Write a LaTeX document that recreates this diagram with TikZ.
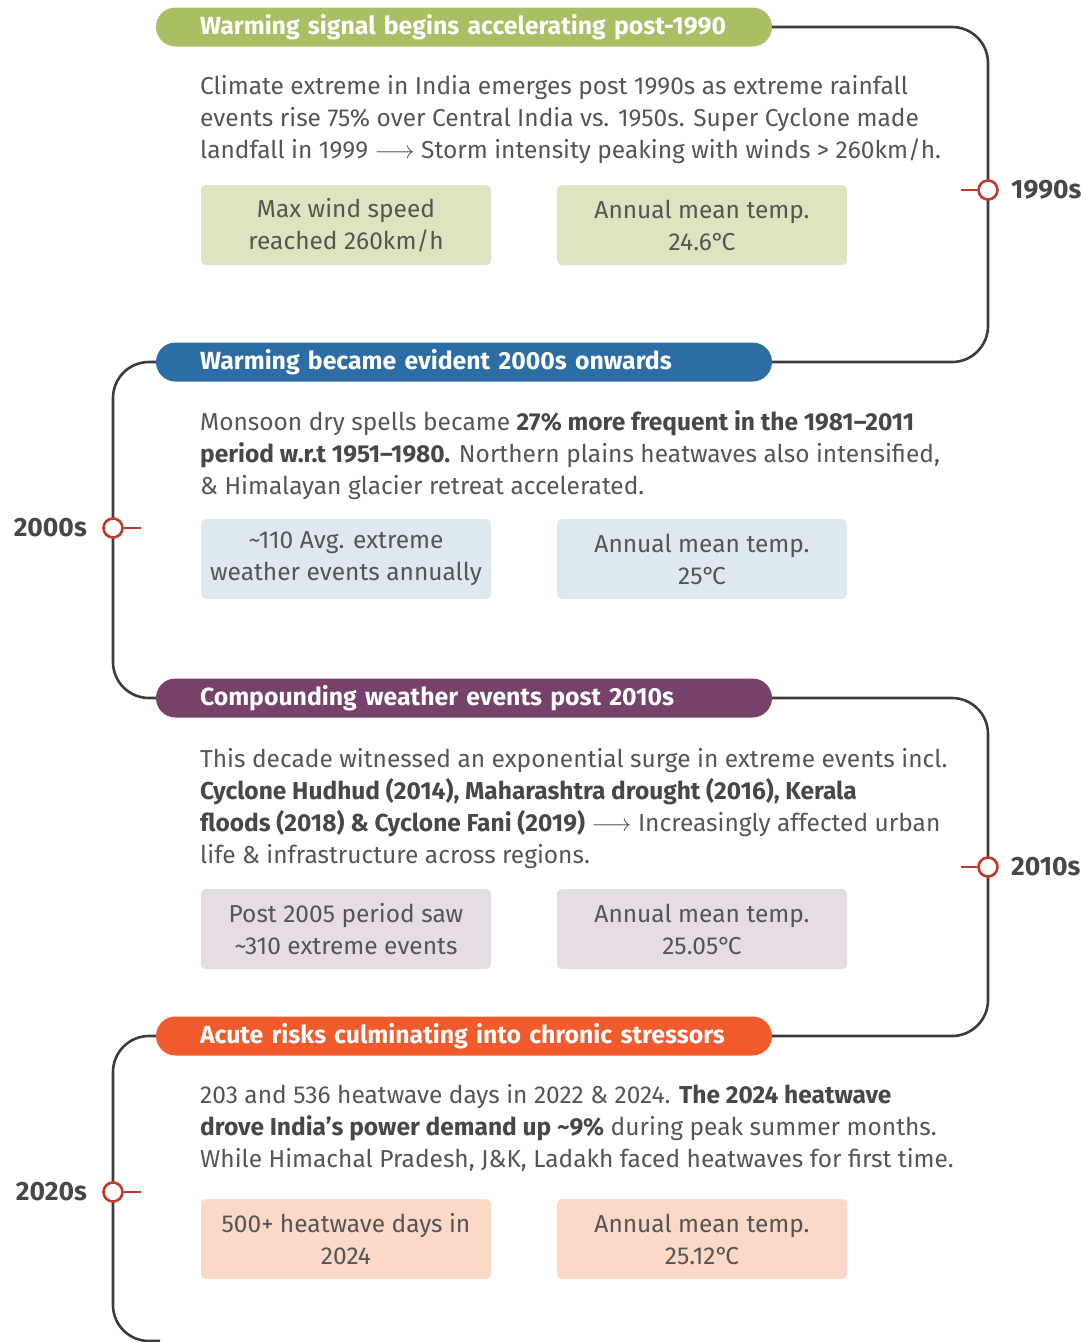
\documentclass[tikz,border=0pt]{standalone}
\usepackage{fontspec}
\setmainfont{Fira Sans}
\usetikzlibrary{positioning}

\definecolor{greenpill}{HTML}{A9BF63}
\definecolor{greenbox}{HTML}{DFE4C0}
\definecolor{bluepill}{HTML}{2B6DA4}
\definecolor{bluebox}{HTML}{DDE8EF}
\definecolor{purplepill}{HTML}{77426A}
\definecolor{purplebox}{HTML}{E6DCE4}
\definecolor{orangepill}{HTML}{F15A2B}
\definecolor{orangebox}{HTML}{FCD9C6}
\definecolor{linegray}{HTML}{3C3C3C}
\definecolor{txtgray}{HTML}{555555}
\definecolor{darkgray}{HTML}{474747}
\definecolor{mkred}{HTML}{C0392B}

\newcommand\bhl[1]{{\bfseries\color{darkgray}#1}}
\newcommand\longarr{$\longrightarrow$}
\newcommand\degc{°\kern-0.12em C}

\tikzset{
  pill/.style={rounded corners=19.5pt, minimum height=39pt, text width=528pt,
    inner xsep=44pt, inner ysep=0pt, align=left, text=white,
    font=\bfseries\fontsize{24.8}{30}\selectfont},
  body/.style={anchor=north west, align=left, inner sep=0pt, text=txtgray,
    font=\fontsize{24.5}{32}\selectfont},
  stat/.style={rounded corners=5pt, minimum width=290pt, minimum height=80pt,
    align=center, text=txtgray, font=\fontsize{24.5}{32}\selectfont},
  timeline/.style={draw=linegray, line width=2.6pt, rounded corners=36pt},
  marker/.style={circle, draw=mkred, fill=white, line width=2.6pt,
    minimum size=19pt, inner sep=0pt},
  tickline/.style={draw=mkred, line width=2.6pt},
  decade/.style={text=darkgray, inner sep=0pt,
    font=\bfseries\fontsize{26.5}{30}\selectfont}
}

\begin{document}
\begin{tikzpicture}[x=1pt, y=1pt]
  \clip (0,0) rectangle (1086,-1342);

  % period headings
  \node[pill, fill=greenpill] (p1) at (464,-27) {Warming signal begins accelerating post-1990};
  \node[pill, fill=bluepill] (p2) at (464,-362) {Warming became evident 2000s onwards};
  \node[pill, fill=purplepill] (p3) at (464,-698) {Compounding weather events post 2010s};
  \node[pill, fill=orangepill] (p4) at (464,-1036) {Acute risks culminating into chronic stressors};

  % timeline
  \coordinate (r1) at (988,-190);
  \coordinate (l2) at (113,-528);
  \coordinate (r3) at (988,-867);
  \coordinate (l4) at (113,-1192);
  \coordinate (tail) at (160,-1341);
  \draw[timeline] (p1.east) -| (r1) |- (p2.east);
  \draw[timeline] (p2.west) -| (l2) |- (p3.west);
  \draw[timeline] (p3.east) -| (r3) |- (p4.east);
  \draw[timeline] (p4.west) -| (l4) |- (tail);

  % decade markers
  \node[marker] (m1) at (r1) {};
  \node[marker] (m2) at (l2) {};
  \node[marker] (m3) at (r3) {};
  \node[marker] (m4) at (l4) {};
  \coordinate (t1) at (961,-190);
  \coordinate (t2) at (141,-528);
  \coordinate (t3) at (961,-867);
  \coordinate (t4) at (141,-1192);
  \draw[tickline] (m1) -- (t1);
  \draw[tickline] (m2) -- (t2);
  \draw[tickline] (m3) -- (t3);
  \draw[tickline] (m4) -- (t4);
  \node[decade, anchor=west] (d1) at (1011,-190) {1990s};
  \node[decade, anchor=east] (d2) at (87,-528) {2000s};
  \node[decade, anchor=west] (d3) at (1011,-867) {2010s};
  \node[decade, anchor=east] (d4) at (87,-1192) {2020s};

  % 1990s
  \node[body] (b1) at (200,-75) {Climate extreme in India emerges post 1990s as extreme rainfall\\
    events rise 75\% over Central India vs. 1950s. Super Cyclone made\\
    landfall in 1999 \longarr{} Storm intensity peaking with winds > 260km/h.};
  \node[stat, fill=greenbox] (s1a) at (346,-225) {Max wind speed\\reached 260km/h};
  \node[stat, fill=greenbox] (s1b) at (702,-225) {Annual mean temp.\\24.6\degc};

  % 2000s
  \node[body] (b2) at (200,-410) {Monsoon dry spells became \bhl{27\% more frequent in the 1981–2011}\\
    \bhl{period w.r.t 1951–1980.} Northern plains heatwaves also intensified,\\
    \& Himalayan glacier retreat accelerated.};
  \node[stat, fill=bluebox] (s2a) at (346,-559) {\textasciitilde110 Avg. extreme\\weather events annually};
  \node[stat, fill=bluebox] (s2b) at (702,-559) {Annual mean temp.\\25\degc};

  % 2010s
  \node[body] (b3) at (200,-748) {This decade witnessed an exponential surge in extreme events incl.\\
    \bhl{Cyclone Hudhud (2014), Maharashtra drought (2016), Kerala}\\
    \bhl{floods (2018) \& Cyclone Fani (2019)} \longarr{} Increasingly affected urban\\
    life \& infrastructure across regions.};
  \node[stat, fill=purplebox] (s3a) at (346,-929) {Post 2005 period saw\\\textasciitilde310 extreme events};
  \node[stat, fill=purplebox] (s3b) at (702,-929) {Annual mean temp.\\25.05\degc};

  % 2020s
  \node[body] (b4) at (200,-1084) {203 and 536 heatwave days in 2022 \& 2024. \bhl{The 2024 heatwave}\\
    \bhl{drove India{\char"0027}s power demand up \textasciitilde9\%} during peak summer months.\\
    While Himachal Pradesh, J\&K, Ladakh faced heatwaves for first time.};
  \node[stat, fill=orangebox] (s4a) at (346,-1239) {500+ heatwave days in\\2024};
  \node[stat, fill=orangebox] (s4b) at (702,-1239) {Annual mean temp.\\25.12\degc};
\end{tikzpicture}
\end{document}
